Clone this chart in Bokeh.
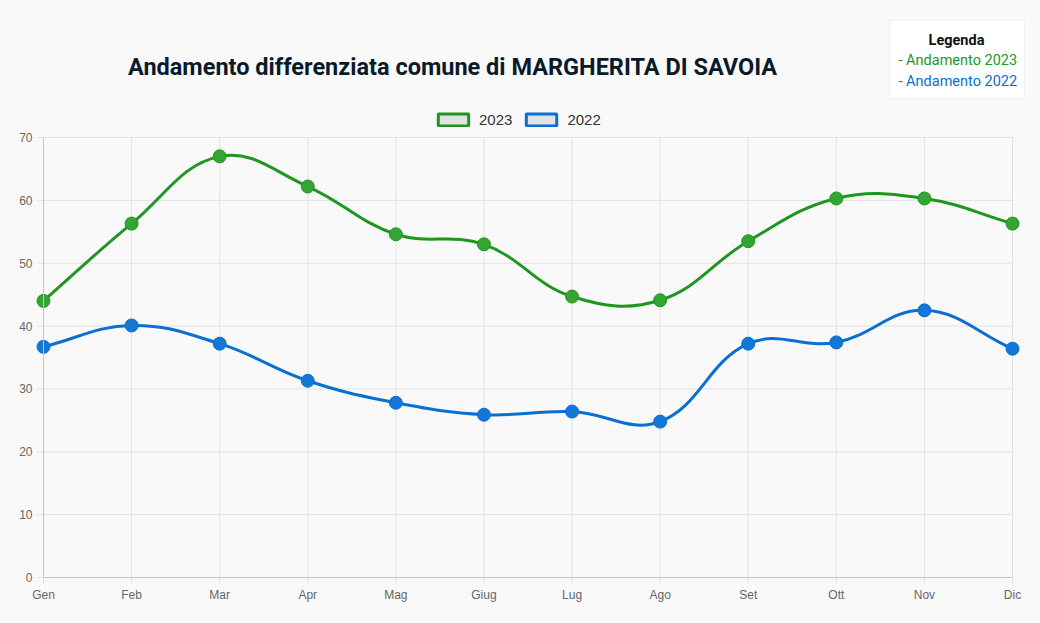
import numpy as np
from bokeh.plotting import figure
from bokeh.models import (Range1d, FixedTicker, Label, Legend, LegendItem,
                          BoxAnnotation, LinearAxis)
from bokeh.embed import file_html
from bokeh.resources import INLINE

# ---- data ----
months = ["Gen", "Feb", "Mar", "Apr", "Mag", "Giug", "Lug", "Ago", "Set", "Ott", "Nov", "Dic"]
values_2023 = [44.0, 56.3, 67.0, 62.2, 54.6, 53.0, 44.7, 44.1, 53.5, 60.3, 60.3, 56.3]
values_2022 = [36.7, 40.1, 37.2, 31.3, 27.8, 25.9, 26.4, 24.8, 37.2, 37.4, 42.5, 36.4]
y_ticks = [0, 10, 20, 30, 40, 50, 60, 70]
series_labels = ["2023", "2022"]
title_text = "Andamento differenziata comune di MARGHERITA DI SAVOIA"
legend_title = "Legenda"
legend_lines = ["- Andamento 2023", "- Andamento 2022"]

# ---- layout (pixel geometry of the plotting area) ----
W, H = 1040, 623
L, R, T, B = 43, 28, 137, 46
FW, FH = W - L - R, H - T - B
x0, x1 = 0, len(months) - 1
y0, y1 = 0, 70
SX = FW / (x1 - x0)
SY = FH / (y1 - y0)

GREEN = "#1f961f"
GREEN_PT = "#33a533"
BLUE = "#0a6fd0"
BLUE_PT = "#1377d8"
BG = "#f9f9f9"


def dx(px):
    return x0 + (px - L) / SX


def dy(py):
    return y0 + (T + FH - py) / SY


def spline(vals, t=0.4):
    """Chart.js style cubic bezier control points (computed in pixel space)."""
    n = len(vals)
    P = np.array([[i * SX, v * SY] for i, v in enumerate(vals)])
    cp_prev = P.copy()
    cp_next = P.copy()
    for i in range(n):
        prev = P[i - 1] if i > 0 else P[i]
        nxt = P[i + 1] if i < n - 1 else P[i]
        cur = P[i]
        d01 = np.hypot(*(cur - prev))
        d12 = np.hypot(*(nxt - cur))
        s = d01 + d12
        s01 = d01 / s if s else 0
        s12 = d12 / s if s else 0
        fa, fb = t * s01, t * s12
        cp_prev[i] = cur - fa * (nxt - prev)
        cp_next[i] = cur + fb * (nxt - prev)
    return dict(
        x0=P[:-1, 0] / SX, y0=P[:-1, 1] / SY,
        x1=P[1:, 0] / SX, y1=P[1:, 1] / SY,
        cx0=cp_next[:-1, 0] / SX, cy0=cp_next[:-1, 1] / SY,
        cx1=cp_prev[1:, 0] / SX, cy1=cp_prev[1:, 1] / SY,
    )


# frame covers the whole canvas; axes are pinned at data locations
p = figure(width=W, height=H, output_backend="svg", toolbar_location=None,
           x_range=Range1d(dx(0), dx(W)), y_range=Range1d(dy(H), dy(0)),
           x_axis_type=None, y_axis_type=None,
           min_border_left=0, min_border_right=0, min_border_top=0, min_border_bottom=0)
p.background_fill_color = BG
p.border_fill_color = BG
p.outline_line_color = None
p.xgrid.visible = False
p.ygrid.visible = False

# grid lines (with Chart.js-like tick extensions beyond the axes)
month_idx = list(range(len(months)))
p.segment(x0=month_idx, y0=[dy(T + FH + 6)] * len(months), x1=month_idx, y1=[y1] * len(months),
          line_color="#e2e2e2", line_width=1)
p.segment(x0=[dx(L - 7)] * len(y_ticks), y0=y_ticks, x1=[x1] * len(y_ticks), y1=y_ticks,
          line_color="#e2e2e2", line_width=1)

xaxis = LinearAxis(fixed_location=y0, bounds=(x0, x1),
                   ticker=FixedTicker(ticks=month_idx),
                   major_label_overrides={i: m for i, m in enumerate(months)})
yaxis = LinearAxis(fixed_location=x0, bounds=(y0, y1), ticker=FixedTicker(ticks=y_ticks))
for ax in (xaxis, yaxis):
    ax.axis_line_color = "#c4c4c4"
    ax.major_tick_line_color = None
    ax.minor_tick_line_color = None
    ax.major_tick_in = 0
    ax.major_tick_out = 7
    ax.major_label_text_font = "Liberation Sans"
    ax.major_label_text_font_size = "12px"
    ax.major_label_text_color = "#666666"
xaxis.major_tick_out = 6
xaxis.major_label_standoff = 4
yaxis.major_label_standoff = 4
p.add_layout(xaxis, "below")
p.add_layout(yaxis, "left")

# lines
for vals, col in ((values_2022, BLUE), (values_2023, GREEN)):
    seg = spline(vals)
    p.bezier(x0="x0", y0="y0", x1="x1", y1="y1", cx0="cx0", cy0="cy0", cx1="cx1", cy1="cy1",
             source=seg, line_color=col, line_width=3)
for vals, col, ptcol in ((values_2022, BLUE, BLUE_PT), (values_2023, GREEN, GREEN_PT)):
    p.scatter(month_idx, vals, size=13, fill_color=ptcol, line_color=col, line_width=1)

# chart.js-style legend
r23 = p.quad(left=[np.nan], right=[np.nan], top=[np.nan], bottom=[np.nan],
             fill_color="#e2e2e2", line_color=GREEN, line_width=3)
r22 = p.quad(left=[np.nan], right=[np.nan], top=[np.nan], bottom=[np.nan],
             fill_color="#e2e2e2", line_color=BLUE, line_width=3)
leg = Legend(items=[LegendItem(label=series_labels[0], renderers=[r23]),
                    LegendItem(label=series_labels[1], renderers=[r22])],
             orientation="horizontal", location=(434, H - 128),
             glyph_width=38, glyph_height=15, label_standoff=7, spacing=10,
             padding=0, margin=0, border_line_color=None, background_fill_alpha=0,
             label_text_font="Liberation Sans", label_text_font_size="15px",
             label_text_color="#333333", label_height=15)
p.add_layout(leg)

# title
p.add_layout(Label(x=dx(452), y=dy(66), text=title_text, text_align="center",
                   text_baseline="middle", text_font="Roboto", text_font_style="bold",
                   text_font_size="23.5px", text_color="#0b1a2a"))

# HTML-like legend box
p.add_layout(BoxAnnotation(left=dx(889), right=dx(1024), top=dy(20), bottom=dy(98),
                           fill_color="#ffffff", fill_alpha=1, line_color="#d8d8d8",
                           line_width=1, level="overlay"))
p.add_layout(Label(x=dx(956), y=dy(40), text=legend_title, text_align="center",
                   text_baseline="middle", text_font="Roboto", text_font_style="bold",
                   text_font_size="14.5px", text_color="#111111", level="overlay"))
for i, (txt, col) in enumerate(zip(legend_lines, (GREEN, BLUE))):
    p.add_layout(Label(x=dx(898), y=dy(60 + 21 * i), text=txt, text_align="left",
                       text_baseline="middle", text_font="Roboto",
                       text_font_size="14.5px", text_color=col, level="overlay"))

open("out.html", "w").write(file_html(p, INLINE))
